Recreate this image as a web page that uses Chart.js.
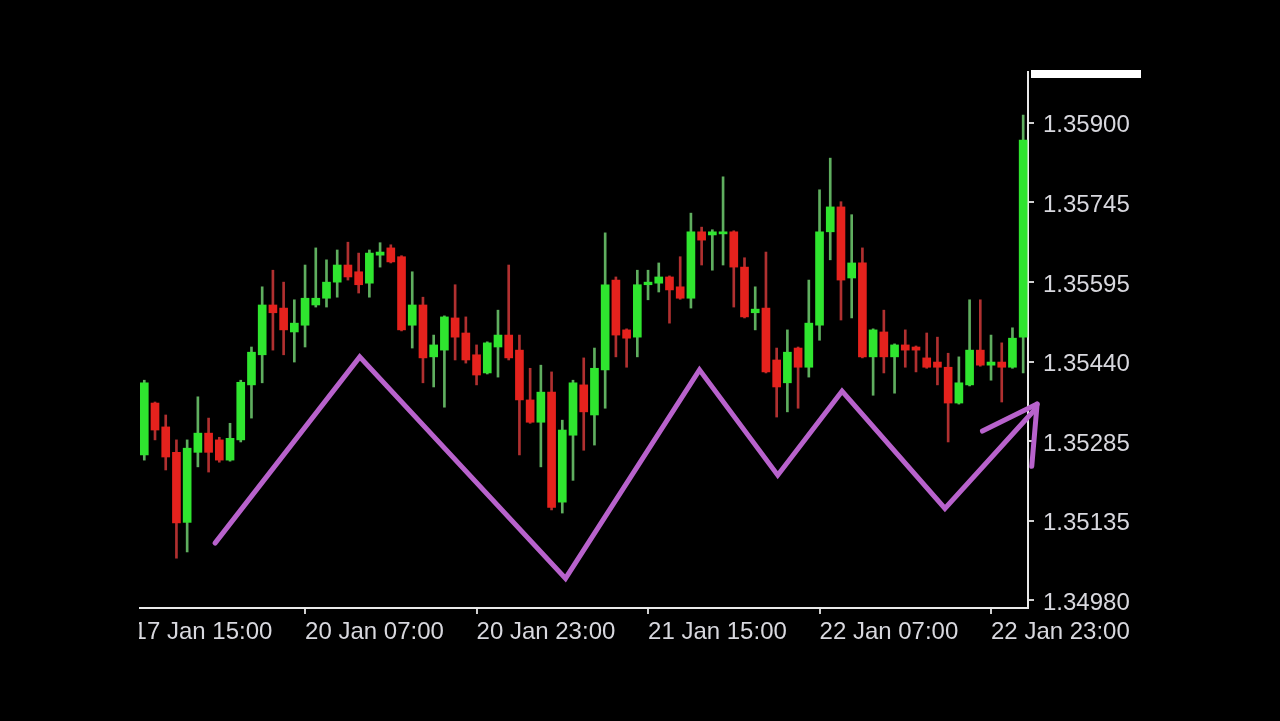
<!DOCTYPE html>
<html><head><meta charset="utf-8">
<script src="https://cdn.jsdelivr.net/npm/chart.js@4/dist/chart.umd.min.js"></script>
<style>
html,body{margin:0;padding:0;background:#000;width:1280px;height:721px;overflow:hidden}
#wrap{position:absolute;left:139px;top:70px;width:1021px;height:600px}
</style></head><body>
<div id="wrap"><canvas id="c" width="1021" height="600"></canvas></div>
<script>
// ---- data (H1 candles, bar index 1..83) ----
const opens  = [1.35260,1.35360,1.35314,1.35265,1.35130,1.35265,1.35302,1.35289,1.35250,1.35289,
 1.35395,1.35453,1.35549,1.35543,1.35497,1.35510,1.35549,1.35562,1.35593,1.35626,
 1.35613,1.35591,1.35645,1.35659,1.35642,1.35510,1.35549,1.35449,1.35462,1.35524,
 1.35495,1.35453,1.35418,1.35468,1.35491,1.35462,1.35366,1.35323,1.35381,1.35169,
 1.35298,1.35395,1.35337,1.35424,1.35597,1.35501,1.35487,1.35588,1.35591,1.35603,
 1.35584,1.35562,1.35690,1.35684,1.35686,1.35690,1.35622,1.35534,1.35543,1.35443,
 1.35399,1.35466,1.35429,1.35510,1.35690,1.35738,1.35601,1.35630,1.35449,1.35497,
 1.35449,1.35472,1.35468,1.35447,1.35439,1.35429,1.35360,1.35395,1.35462,1.35433,
 1.35439,1.35429,1.35487];
const highs  = [1.35404,1.35362,1.35337,1.35289,1.35289,1.35372,1.35331,1.35294,1.35321,1.35404,
 1.35468,1.35584,1.35616,1.35593,1.35559,1.35626,1.35659,1.35636,1.35655,1.35670,
 1.35649,1.35655,1.35669,1.35665,1.35644,1.35613,1.35564,1.35491,1.35528,1.35588,
 1.35526,1.35472,1.35478,1.35539,1.35626,1.35491,1.35427,1.35433,1.35420,1.35327,
 1.35404,1.35447,1.35466,1.35688,1.35603,1.35503,1.35616,1.35616,1.35630,1.35605,
 1.35642,1.35726,1.35699,1.35694,1.35796,1.35692,1.35640,1.35584,1.35651,1.35466,
 1.35501,1.35468,1.35597,1.35771,1.35832,1.35748,1.35723,1.35659,1.35503,1.35539,
 1.35474,1.35501,1.35470,1.35495,1.35487,1.35456,1.35449,1.35559,1.35559,1.35491,
 1.35476,1.35505,1.35915];
const lows   = [1.35250,1.35289,1.35231,1.35061,1.35073,1.35237,1.35227,1.35246,1.35248,1.35285,
 1.35331,1.35399,1.35462,1.35453,1.35439,1.35468,1.35545,1.35545,1.35564,1.35597,
 1.35572,1.35564,1.35622,1.35630,1.35499,1.35466,1.35399,1.35391,1.35352,1.35443,
 1.35437,1.35395,1.35416,1.35410,1.35443,1.35260,1.35321,1.35237,1.35154,1.35148,
 1.35211,1.35269,1.35279,1.35350,1.35449,1.35429,1.35449,1.35559,1.35574,1.35514,
 1.35560,1.35543,1.35626,1.35616,1.35626,1.35545,1.35524,1.35501,1.35418,1.35333,
 1.35343,1.35350,1.35410,1.35481,1.35636,1.35520,1.35524,1.35447,1.35375,1.35418,
 1.35379,1.35429,1.35420,1.35427,1.35395,1.35285,1.35358,1.35393,1.35431,1.35404,
 1.35362,1.35427,1.35418];
const closes = [1.35399,1.35308,1.35256,1.35129,1.35273,1.35302,1.35265,1.35250,1.35292,1.35400,
 1.35458,1.35549,1.35534,1.35501,1.35514,1.35562,1.35562,1.35593,1.35626,1.35603,
 1.35588,1.35649,1.35651,1.35632,1.35501,1.35549,1.35447,1.35472,1.35526,1.35487,
 1.35443,1.35414,1.35476,1.35491,1.35447,1.35366,1.35323,1.35381,1.35159,1.35308,
 1.35399,1.35343,1.35427,1.35588,1.35491,1.35485,1.35588,1.35593,1.35603,1.35578,
 1.35562,1.35690,1.35674,1.35690,1.35690,1.35622,1.35526,1.35541,1.35420,1.35391,
 1.35458,1.35429,1.35514,1.35690,1.35738,1.35597,1.35630,1.35449,1.35501,1.35449,
 1.35472,1.35462,1.35462,1.35429,1.35429,1.35360,1.35399,1.35462,1.35433,1.35439,
 1.35429,1.35485,1.35867];

// x tick labels (bar index positions; one bar per hour)
const xTickLabels    = ['17 Jan 15:00','20 Jan 07:00','20 Jan 23:00','21 Jan 15:00','22 Jan 07:00','22 Jan 23:00'];
const xTickPositions = [0,16,32,48,64,80];
// y tick labels as printed on the price scale
const yTickLabels = ['1.34980','1.35135','1.35285','1.35440','1.35595','1.35745','1.35900'];
const yTickValues = [1.349800,1.351333,1.352867,1.354400,1.355933,1.357467,1.359000];

// hand-drawn zigzag (bar position, price)
const zigX = [7.6, 21.1, 40.3, 52.8, 60.1, 66.1, 75.7, 84.2];
const zigY = [1.35090,1.35449,1.35022,1.35424,1.35221,1.35383,1.35157,1.35350];
const arrowAX = [79.2, 84.3], arrowAY = [1.35306, 1.35358];
const arrowBX = [83.8, 84.3], arrowBY = [1.35238, 1.35358];

const barPos = opens.map((_, i) => i + 1);

const UP='#2fe52f', DN='#e5221d', WUP='#5fae5f', WDN='#b03030', PURPLE='#b862cc', TXT='#d8d8de';
const isUp = opens.map((o,i)=>closes[i]>=o);
const wickData = barPos.map((x,i)=>({x, y:[lows[i], highs[i]]}));
const bodyData = barPos.map((x,i)=>({x, y:[opens[i], closes[i]]}));
const pts = (xs, ys) => xs.map((x,i)=>({x, y:ys[i]}));

const topBox = {
  id:'topBox',
  afterDraw(chart){
    const {ctx, chartArea} = chart;
    ctx.save();
    ctx.fillStyle='#ffffff';
    ctx.fillRect(chartArea.right+3, 0, 110, 8);
    ctx.restore();
  }
};

const FONT = {family:'Liberation Sans', size:24};
new Chart(document.getElementById('c'), {
  type:'bar',
  data:{datasets:[
    {type:'bar', data:wickData, backgroundColor:isUp.map(u=>u?WUP:WDN), barThickness:2, grouped:false, order:3},
    {type:'bar', data:bodyData, backgroundColor:isUp.map(u=>u?UP:DN), barThickness:8, minBarLength:2, grouped:false, order:2},
    {type:'line', data:pts(zigX, zigY), borderColor:PURPLE, borderWidth:5, pointRadius:0, clip:false, order:1, borderCapStyle:'round', borderJoinStyle:'miter', tension:0},
    {type:'line', data:pts(arrowAX, arrowAY), borderColor:PURPLE, borderWidth:5, pointRadius:0, clip:false, order:0, borderCapStyle:'round'},
    {type:'line', data:pts(arrowBX, arrowBY), borderColor:PURPLE, borderWidth:5, pointRadius:0, clip:false, order:0, borderCapStyle:'round'}
  ]},
  options:{
    responsive:false, animation:false,
    layout:{padding:{top:2,left:1,right:0,bottom:0}},
    plugins:{legend:{display:false}, tooltip:{enabled:false}},
    scales:{
      x:{type:'linear', min:0.6, max:83.45, offset:false,
         afterBuildTicks:s=>{ s.ticks = xTickPositions.map(v=>({value:v})); },
         afterFit:s=>{ s.height = 62; s.paddingLeft = 0; s.paddingRight = 0; },
         ticks:{autoSkip:false, maxRotation:0, align:'start', color:TXT, font:FONT, padding:4,
                callback:(v,i)=>xTickLabels[i]},
         grid:{display:true, offset:false, drawOnChartArea:false, drawTicks:true, tickLength:6, color:'#cfcfcf', lineWidth:2},
         border:{display:true, color:'#e8e8e8', width:2}},
      y:{position:'right', min:1.34965, max:1.35998,
         afterBuildTicks:s=>{ s.ticks = yTickValues.map(v=>({value:v})); },
         afterFit:s=>{ s.width = 132; s.paddingTop = 0; s.paddingBottom = 0; },
         ticks:{autoSkip:false, color:TXT, font:FONT, padding:9, labelOffset:3,
                callback:(v,i)=>yTickLabels[i]},
         grid:{display:true, offset:false, drawOnChartArea:false, drawTicks:true, tickLength:6, color:'#cfcfcf', lineWidth:2},
         border:{display:true, color:'#e8e8e8', width:2}}
    }
  },
  plugins:[topBox]
});
</script>
</body></html>
